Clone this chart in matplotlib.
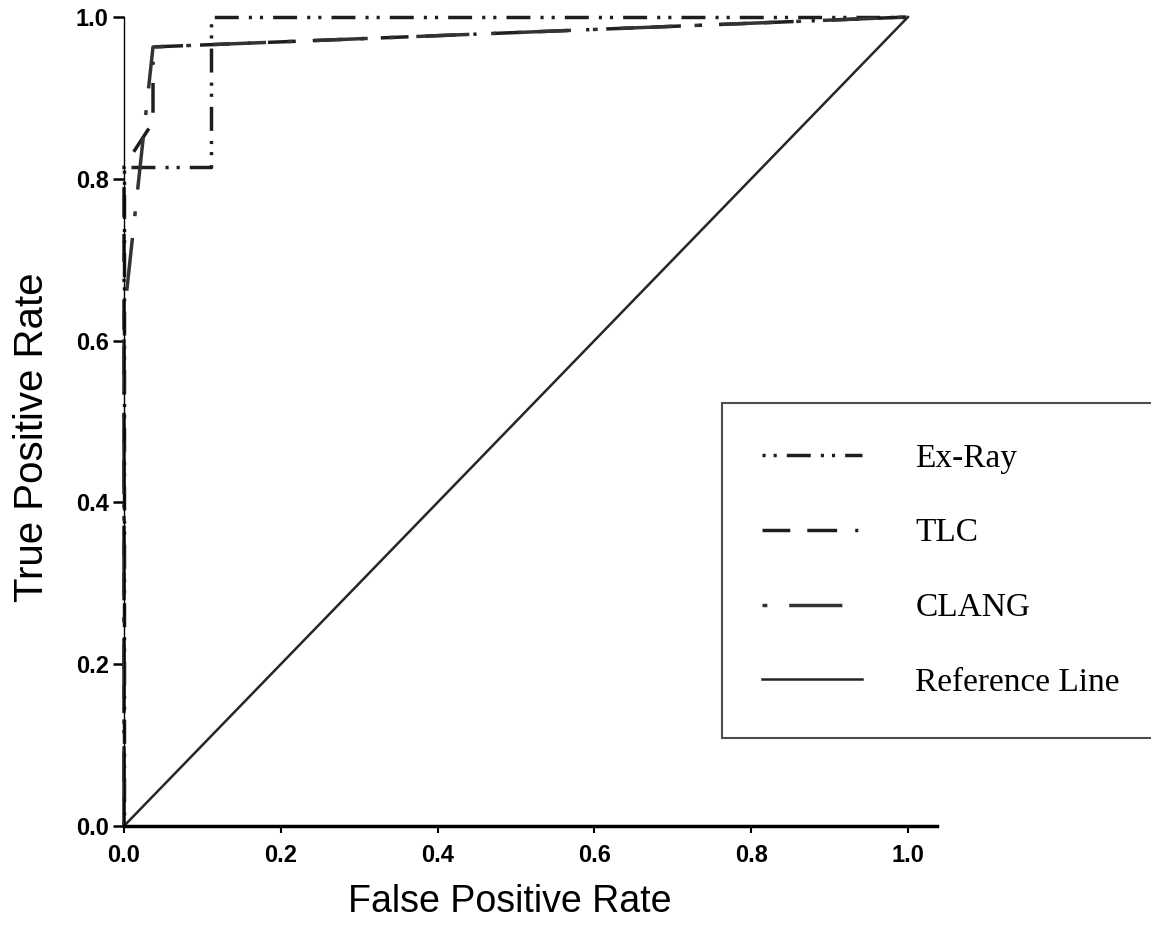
import matplotlib
matplotlib.use("Agg")
import matplotlib.pyplot as plt
import numpy as np


# ROC points
exray_fpr = [0.0, 0.0, 0.111, 0.111, 1.0]
exray_tpr = [0.0, 0.815, 0.815, 1.0, 1.0]

tlc_fpr = [0.0, 0.0, 0.037, 0.037, 1.0]
tlc_tpr = [0.0, 0.815, 0.87, 0.963, 1.0]

clang_fpr = [0.0, 0.0, 0.037, 1.0]
clang_tpr = [0.0, 0.63, 0.963, 1.0]

ref_fpr = [0.0, 1.0]
ref_tpr = [0.0, 1.0]

tick_vals = [0.0, 0.2, 0.4, 0.6, 0.8, 1.0]
tick_labels = ["0.0", "0.2", "0.4", "0.6", "0.8", "1.0"]

xlabel_fontsize = 27
ylabel_fontsize = 29
tick_fontsize = 17
legend_fontsize = 24

line_color = "#1e1e1e"
lw = 2.5


fig = plt.figure(figsize=(11.51, 9.35), dpi=100)
ax = fig.add_axes([124 / 1151, 1 - 826 / 935, (937 - 124) / 1151, (826 - 17) / 935])

ax.plot(exray_fpr, exray_tpr, color=line_color, linewidth=lw,
	linestyle=(0, (0.9, 2.3, 0.9, 2.9, 6.9, 2.9)), label="Ex-Ray", clip_on=False)
ax.plot(tlc_fpr, tlc_tpr, color=line_color, linewidth=lw,
	linestyle=(0, (8, 4.9, 8.6, 5.2, 0.9, 4.9)), label="TLC", clip_on=False)
ax.plot(clang_fpr, clang_tpr, color="#333333", linewidth=lw,
	linestyle=(0, (1.4, 6.3, 15.3, 6.3)), label="CLANG", clip_on=False)
ax.plot(ref_fpr, ref_tpr, color="#262626", linewidth=1.8,
	linestyle="-", label="Reference Line", clip_on=False)

ax.set_xlim(0, 1.037)
ax.set_ylim(0, 1.0)

ax.spines["top"].set_visible(False)
ax.spines["right"].set_visible(False)
ax.spines["left"].set_linewidth(1.0)
ax.spines["bottom"].set_linewidth(2.5)

ax.set_xticks(tick_vals)
ax.set_xticklabels(tick_labels, fontsize=tick_fontsize, fontweight="bold",
	family=["Liberation Sans Narrow", "Liberation Sans"])
ax.set_yticks(tick_vals)
ax.set_yticklabels(tick_labels, fontsize=tick_fontsize, fontweight="bold",
	family=["Liberation Sans Narrow", "Liberation Sans"])
ax.tick_params(axis="y", direction="out", length=8, width=1.8, pad=3)
ax.tick_params(axis="x", direction="out", length=5, width=1.5, pad=8)

ax.set_xlabel("False Positive Rate", fontsize=xlabel_fontsize, family="Liberation Sans")
ax.xaxis.set_label_coords(0.475, -0.072)
ax.set_ylabel("True Positive Rate", fontsize=ylabel_fontsize, family="Liberation Sans")
ax.yaxis.set_label_coords(-0.09, 0.48)

leg = fig.legend(
	loc="upper left", bbox_to_anchor=(722 / 1151, 1 - 403 / 935),
	prop={"family": "Liberation Serif", "size": legend_fontsize},
	frameon=True, fancybox=False, shadow=False,
	handlelength=3.0, handletextpad=1.6, labelspacing=1.33,
	borderpad=1.2, borderaxespad=0,
)
leg.get_frame().set_edgecolor("#202020")
leg.get_frame().set_linewidth(1.5)

plt.savefig("out.png", dpi=100)
plt.close()
